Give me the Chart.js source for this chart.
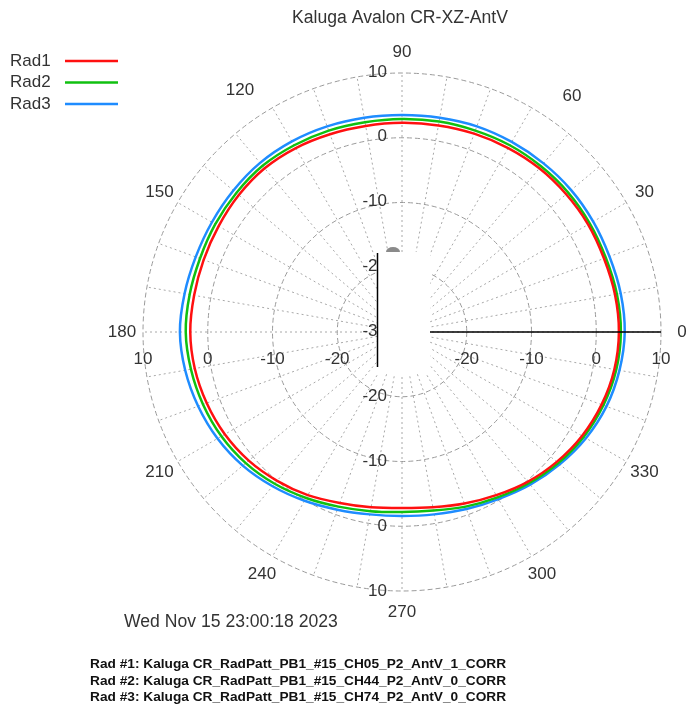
<!DOCTYPE html>
<html>
<head>
<meta charset="utf-8">
<script src="https://cdn.jsdelivr.net/npm/chart.js@4.4.1/dist/chart.umd.min.js"></script>
<style>
  html, body { margin: 0; padding: 0; background: #fff; }
  canvas { display: block; }
</style>
</head>
<body>
<canvas id="polar" width="689" height="708"></canvas>
<script>
// Measurement angles in degrees, counter-clockwise from 0 on the right
const angles = [0, 10, 20, 30, 40, 50, 60, 70, 80, 90, 100, 110, 120, 130, 140, 150, 160, 170,
                180, 190, 200, 210, 220, 230, 240, 250, 260, 270, 280, 290, 300, 310, 320, 330, 340, 350];

// Relative level (dB) for each radio at each angle
const rad1 = [3.5, 3.4, 3.2, 3.2, 3.1, 3.0, 2.8, 2.6, 2.4, 2.3, 2.3, 2.5, 2.8, 3.0, 2.9, 2.7, 2.6, 2.6,
              2.7, 2.5, 2.1, 1.6, 0.9, 0.0, -0.9, -1.9, -2.5, -2.8, -2.5, -1.8, -0.9, 0.2, 1.2, 2.1, 2.8, 3.3];
const rad2 = [3.8, 3.7, 3.5, 3.5, 3.5, 3.4, 3.3, 3.1, 3.0, 2.9, 2.9, 3.1, 3.3, 3.5, 3.4, 3.3, 3.2, 3.3,
              3.4, 3.1, 2.7, 2.2, 1.5, 0.6, -0.4, -1.3, -1.9, -2.2, -2.0, -1.3, -0.5, 0.5, 1.5, 2.4, 3.1, 3.6];
const rad3 = [4.4, 4.3, 4.1, 4.1, 4.1, 4.0, 3.9, 3.8, 3.6, 3.5, 3.6, 3.8, 4.0, 4.1, 4.0, 3.9, 3.9, 4.1,
              4.3, 4.0, 3.5, 2.9, 2.1, 1.1, 0.1, -0.8, -1.4, -1.6, -1.4, -0.9, -0.2, 0.8, 1.8, 2.8, 3.6, 4.1];

const seriesNames = ['Rad1', 'Rad2', 'Rad3'];
const seriesColors = ['#ff1010', '#10c010', '#1e8cff'];

// Radial ring values and labelled angles
const ringMin = -30;
const ringMax = 10;
const ringTicks = [10, 0, -10, -20];
const angleTickLabels = [0, 30, 60, 90, 120, 150, 180, 210, 240, 270, 300, 330];

const titleText = 'Kaluga Avalon CR-XZ-AntV';
const stampText = 'Wed Nov 15 23:00:18 2023';
const fileNotes = [
  'Rad #1: Kaluga CR_RadPatt_PB1_#15_CH05_P2_AntV_1_CORR',
  'Rad #2: Kaluga CR_RadPatt_PB1_#15_CH44_P2_AntV_0_CORR',
  'Rad #3: Kaluga CR_RadPatt_PB1_#15_CH74_P2_AntV_0_CORR'
];

// The radar scale walks clockwise; reorder so angles run counter-clockwise from the right
const order = angles.map((_, k) => (angles.length - k) % angles.length);
const orderedLabels = order.map(i => angles[i]);
const reorder = arr => order.map(i => arr[i]);

const FONT = '"Liberation Sans", Arial, Helvetica, sans-serif';
const TEXT = '#333333';

// the 60 and 120 labels sit a little wider than the rest
const angleLabelNudge = { 60: [30, 7], 120: [-22, 1] };

const polarDecor = {
  id: 'polarDecor',
  beforeDatasetsDraw(chart) {
    const s = chart.scales.r;
    const ctx = chart.ctx;
    const cx = s.xCenter, cy = s.yCenter;
    ctx.save();
    ctx.fillStyle = TEXT;
    ctx.font = '17px ' + FONT;

    // ring values along the vertical axis
    ctx.textAlign = 'right';
    ctx.textBaseline = 'middle';
    ringTicks.concat([ringMin]).forEach(v => {
      ctx.fillText(String(v), cx - 15, cy - s.getDistanceFromCenterForValue(v) - 1);
    });
    ringTicks.forEach(v => {
      ctx.fillText(String(v), cx - 15, cy + s.getDistanceFromCenterForValue(v));
    });

    // ring values along the horizontal axis
    ctx.textAlign = 'center';
    ringTicks.forEach(v => {
      const d = s.getDistanceFromCenterForValue(v);
      ctx.fillText(String(v), cx - d, cy + 27);
      ctx.fillText(String(v), cx + d, cy + 27);
    });

    // angle labels outside the outer ring
    angleTickLabels.forEach(a => {
      const idx = orderedLabels.indexOf(a);
      const p = s.getPointPosition(idx, s.drawingArea + 21);
      const n = angleLabelNudge[a] || [0, 0];
      ctx.fillText(String(a), p.x + n[0], p.y + n[1]);
    });
    ctx.restore();
  },
  afterDraw(chart) {
    const s = chart.scales.r;
    const ctx = chart.ctx;
    const cx = s.xCenter, cy = s.yCenter;
    ctx.save();

    // blank panel over the centre with its frame edge and the 0° axis line
    ctx.fillStyle = '#ffffff';
    ctx.fillRect(cx - 24, cy - 80, 52, 122);
    ctx.fillStyle = '#8a8a8a';
    ctx.beginPath();
    ctx.ellipse(cx - 9, cy - 80, 7, 5, 0, Math.PI, 2 * Math.PI);
    ctx.fill();
    ctx.strokeStyle = '#000000';
    ctx.lineWidth = 1.5;
    ctx.beginPath();
    ctx.moveTo(cx - 24.5, cy - 79);
    ctx.lineTo(cx - 24.5, cy + 35);
    ctx.stroke();
    ctx.beginPath();
    ctx.moveTo(cx + 28, cy);
    ctx.lineTo(cx + s.drawingArea, cy);
    ctx.stroke();

    // title
    ctx.fillStyle = TEXT;
    ctx.font = '17.6px ' + FONT;
    ctx.textAlign = 'center';
    ctx.textBaseline = 'middle';
    ctx.fillText(titleText, 400, 18);

    // legend: name then line sample
    ctx.font = '17px ' + FONT;
    ctx.textAlign = 'left';
    chart.data.datasets.forEach((ds, i) => {
      const y = 61 + 21.5 * i;
      ctx.fillStyle = TEXT;
      ctx.fillText(ds.label, 10, y);
      ctx.strokeStyle = ds.borderColor;
      ctx.lineWidth = 2.5;
      ctx.beginPath();
      ctx.moveTo(65, y);
      ctx.lineTo(118, y);
      ctx.stroke();
    });

    // timestamp
    ctx.fillStyle = TEXT;
    ctx.font = '17.6px ' + FONT;
    ctx.fillText(stampText, 124, 622);

    // source files
    ctx.fillStyle = '#111111';
    ctx.font = 'bold 13.7px ' + FONT;
    fileNotes.forEach((t, i) => ctx.fillText(t, 90, 664 + 16.8 * i));
    ctx.restore();
  }
};

const seriesData = [rad1, rad2, rad3];

new Chart(document.getElementById('polar'), {
  type: 'radar',
  data: {
    labels: orderedLabels,
    datasets: seriesData.map((arr, i) => ({
      label: seriesNames[i],
      data: reorder(arr),
      borderColor: seriesColors[i],
      backgroundColor: 'rgba(0,0,0,0)',
      borderWidth: 2.5,
      fill: false,
      pointRadius: 0,
      pointHoverRadius: 0,
      tension: 0.3
    }))
  },
  options: {
    responsive: false,
    animation: false,
    devicePixelRatio: 1,
    layout: { padding: { left: 143, right: 28, top: 73, bottom: 117 } },
    plugins: {
      legend: { display: false },
      title: { display: false },
      tooltip: { enabled: false }
    },
    scales: {
      r: {
        min: ringMin,
        max: ringMax,
        startAngle: 90,
        ticks: { display: false, stepSize: 10 },
        pointLabels: { display: false },
        grid: { circular: true, color: '#9a9a9a', lineWidth: 1 },
        border: { dash: [5, 3] },
        angleLines: { display: true, color: '#a8a8a8', lineWidth: 1, borderDash: [2, 3] }
      }
    }
  },
  plugins: [polarDecor]
});
</script>
</body>
</html>
